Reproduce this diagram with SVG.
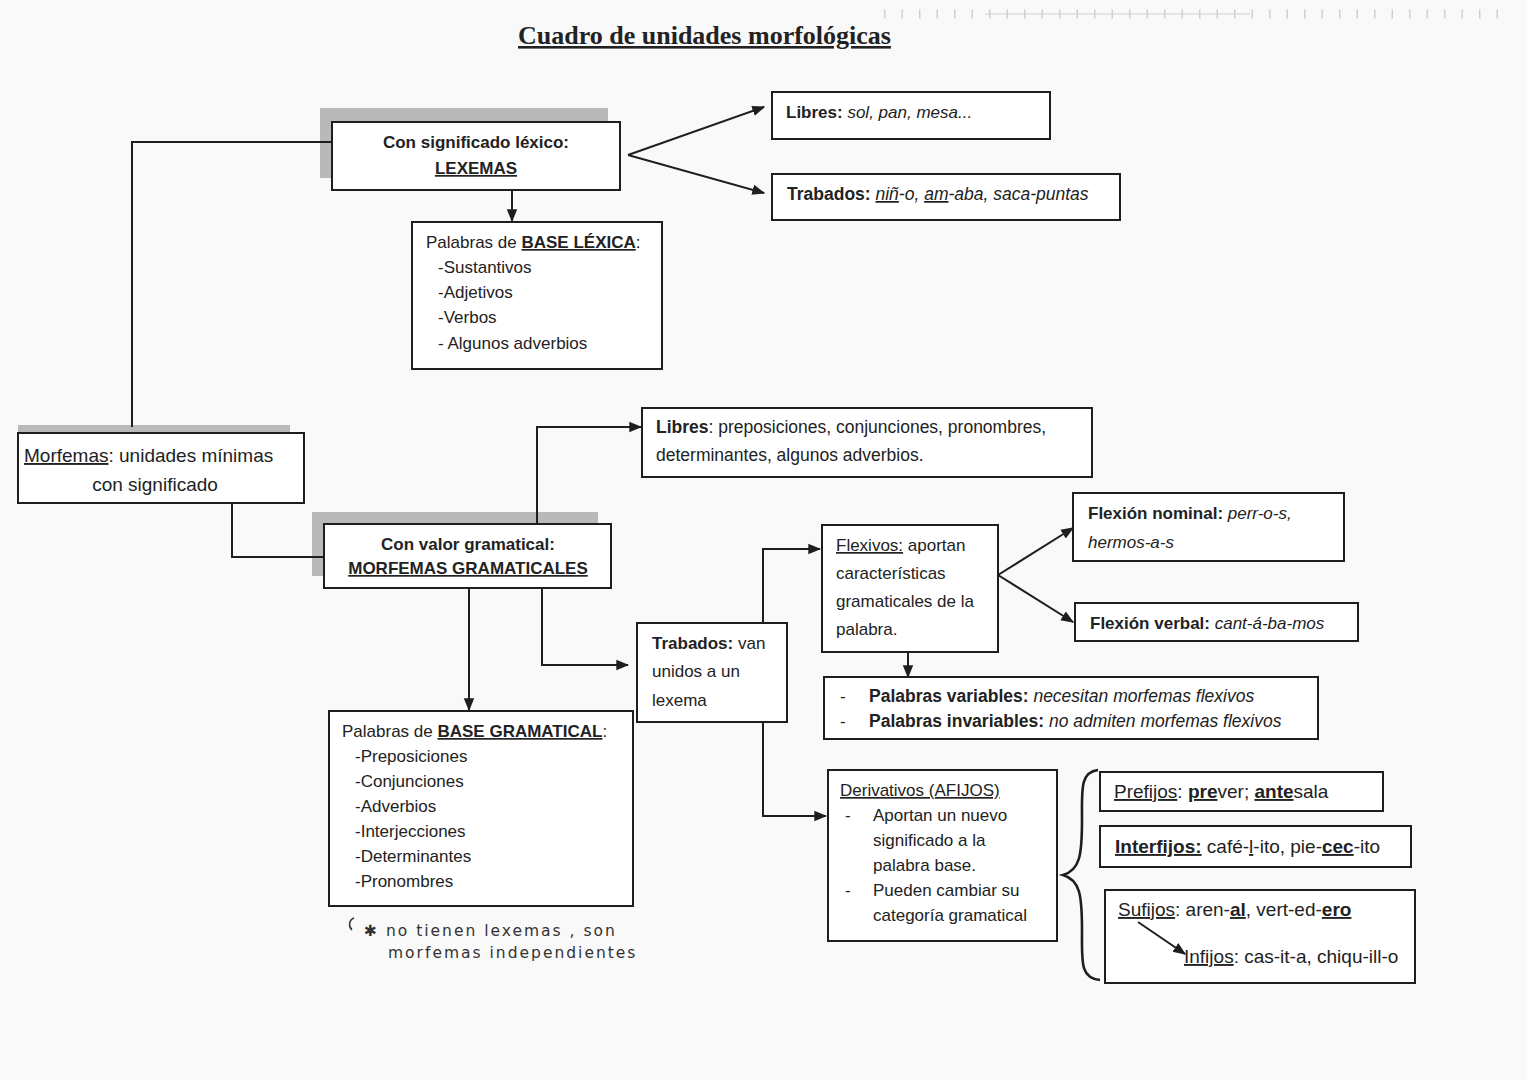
<svg xmlns="http://www.w3.org/2000/svg" width="1527" height="1080" viewBox="0 0 1527 1080">
<defs>
<style>
text{font-family:"Liberation Sans",Arial,sans-serif;font-size:17px;fill:#222}
.b{font-weight:bold}
.i{font-style:italic}
.u{text-decoration:underline}
.c{text-anchor:middle}
.big{font-size:19px}
.box{fill:#fff;stroke:#1e1e1e;stroke-width:2}
.sh{fill:#b9b9b9}
.ln{fill:none;stroke:#1e1e1e;stroke-width:2}
.arr{fill:none;stroke:#1e1e1e;stroke-width:2;marker-end:url(#ah)}
.title{font-family:"Liberation Serif","Times New Roman",serif;font-size:26px;font-weight:bold;text-decoration:underline}
.hand{font-family:"DejaVu Sans",sans-serif;font-size:15.5px;letter-spacing:2px;fill:#333}
</style>
<marker id="ah" viewBox="0 0 10 10" refX="9" refY="5" markerWidth="6.5" markerHeight="6.5" orient="auto" markerUnits="strokeWidth">
<path d="M0,1 L10,5 L0,9 z" fill="#1e1e1e"/>
</marker>
</defs>
<rect x="0" y="0" width="1527" height="1080" fill="#f9f9f9"/>
<line x1="884" y1="14" x2="1512" y2="14" stroke="#cfcfcf" stroke-width="9" stroke-dasharray="1.5 16"/>
<line x1="985" y1="14" x2="1250" y2="14" stroke="#cfcfcf" stroke-width="1.2"/>
<text id="title" class="title" x="518" y="44">Cuadro de unidades morfológicas</text>

<g id="lexemas">
<rect class="sh" x="320" y="108" width="288" height="70"/>
<rect class="box" x="332" y="122" width="288" height="68"/>
<text class="b c" x="476" y="148">Con significado léxico:</text>
<text class="b c u" x="476" y="174">LEXEMAS</text>
</g>

<g id="libres-lex">
<rect class="box" x="772" y="92" width="278" height="47"/>
<text x="786" y="118"><tspan class="b">Libres:</tspan><tspan class="i"> sol, pan, mesa...</tspan></text>
</g>

<g id="trabados-lex">
<rect class="box" x="772" y="174" width="348" height="46"/>
<text x="787" y="200" style="font-size:17.5px"><tspan class="b">Trabados: </tspan><tspan class="i u">niñ</tspan><tspan class="i">-o, </tspan><tspan class="i u">am</tspan><tspan class="i">-aba, saca-puntas</tspan></text>
</g>

<g id="base-lexica">
<rect class="box" x="412" y="222" width="250" height="147"/>
<text x="426" y="248">Palabras de <tspan class="b u">BASE LÉXICA</tspan>:</text>
<text x="438" y="273">-Sustantivos</text>
<text x="438" y="298">-Adjetivos</text>
<text x="438" y="323">-Verbos</text>
<text x="438" y="349">- Algunos adverbios</text>
</g>

<g id="morfemas">
<rect class="sh" x="18" y="425" width="272" height="10"/>
<rect class="box" x="18" y="433" width="286" height="70"/>
<text class="big" x="24" y="462"><tspan class="u">Morfemas</tspan>: unidades mínimas</text>
<text class="big c" x="155" y="491">con significado</text>
</g>

<g id="gramatical">
<rect class="sh" x="312" y="512" width="286" height="64"/>
<rect class="box" x="324" y="524" width="287" height="64"/>
<text class="b c" x="468" y="550">Con valor gramatical:</text>
<text class="b c u" x="468" y="574">MORFEMAS GRAMATICALES</text>
</g>

<g id="libres-gram">
<rect class="box" x="642" y="408" width="450" height="69"/>
<text x="656" y="433" style="font-size:17.5px"><tspan class="b">Libres</tspan>: preposiciones, conjunciones, pronombres,</text>
<text x="656" y="461" style="font-size:17.5px">determinantes, algunos adverbios.</text>
</g>

<g id="base-gramatical">
<rect class="box" x="329" y="711" width="304" height="195"/>
<text x="342" y="737">Palabras de <tspan class="b u">BASE GRAMATICAL</tspan>:</text>
<text x="355" y="762">-Preposiciones</text>
<text x="355" y="787">-Conjunciones</text>
<text x="355" y="812">-Adverbios</text>
<text x="355" y="837">-Interjecciones</text>
<text x="355" y="862">-Determinantes</text>
<text x="355" y="887">-Pronombres</text>
</g>

<g id="nota">
<path d="M352,930 C348,926 349,920 354,918" fill="none" stroke="#333" stroke-width="1.5"/>
<text class="hand" x="364" y="936">✱ no tienen lexemas , son</text>
<text class="hand" x="388" y="958">morfemas  independientes</text>
</g>

<g id="trabados-gram">
<rect class="box" x="637" y="623" width="150" height="99"/>
<text x="652" y="649"><tspan class="b">Trabados:</tspan> van</text>
<text x="652" y="677">unidos a un</text>
<text x="652" y="706">lexema</text>
</g>

<g id="flexivos">
<rect class="box" x="822" y="525" width="176" height="127"/>
<text x="836" y="551"><tspan class="u">Flexivos:</tspan> aportan</text>
<text x="836" y="579">características</text>
<text x="836" y="607">gramaticales de la</text>
<text x="836" y="635">palabra.</text>
</g>

<g id="flexion-nominal">
<rect class="box" x="1073" y="493" width="271" height="68"/>
<text x="1088" y="519"><tspan class="b">Flexión nominal:</tspan><tspan class="i"> perr-o-s,</tspan></text>
<text class="i" x="1088" y="548">hermos-a-s</text>
</g>

<g id="flexion-verbal">
<rect class="box" x="1075" y="603" width="283" height="38"/>
<text x="1090" y="629"><tspan class="b">Flexión verbal:</tspan><tspan class="i"> cant-á-ba-mos</tspan></text>
</g>

<g id="variables">
<rect class="box" x="824" y="677" width="494" height="62"/>
<text x="840" y="702">-</text>
<text x="869" y="702" style="font-size:17.5px"><tspan class="b">Palabras variables:</tspan><tspan class="i"> necesitan morfemas flexivos</tspan></text>
<text x="840" y="727">-</text>
<text x="869" y="727" style="font-size:17.5px"><tspan class="b">Palabras invariables:</tspan><tspan class="i"> no admiten morfemas flexivos</tspan></text>
</g>

<g id="derivativos">
<rect class="box" x="828" y="770" width="229" height="171"/>
<text class="u" x="840" y="796">Derivativos (AFIJOS)</text>
<text x="845" y="821">-</text>
<text x="873" y="821">Aportan un nuevo</text>
<text x="873" y="846">significado a la</text>
<text x="873" y="871">palabra base.</text>
<text x="845" y="896">-</text>
<text x="873" y="896">Pueden cambiar su</text>
<text x="873" y="921">categoría gramatical</text>
</g>

<g id="prefijos">
<rect class="box" x="1100" y="772" width="283" height="39"/>
<text class="big" x="1114" y="798"><tspan class="u">Prefijos</tspan>:  <tspan class="u b">pre</tspan>ver; <tspan class="u b">ante</tspan>sala</text>
</g>

<g id="interfijos">
<rect class="box" x="1100" y="826" width="311" height="41"/>
<text class="big" x="1115" y="853"><tspan class="b u">Interfijos:</tspan>  café-<tspan class="u">l</tspan>-ito, pie-<tspan class="u b">cec</tspan>-ito</text>
</g>

<g id="sufijos">
<rect class="box" x="1105" y="890" width="310" height="93"/>
<text class="big" x="1118" y="916"><tspan class="u">Sufijos</tspan>:  aren-<tspan class="u b">al</tspan>, vert-ed-<tspan class="u b">ero</tspan></text>
<text class="big" x="1184" y="963"><tspan class="u">Infijos</tspan>:  cas-it-a, chiqu-ill-o</text>
</g>

<g id="connectors">
<line class="arr" x1="628" y1="155" x2="764" y2="107"/>
<line class="arr" x1="628" y1="155" x2="764" y2="193"/>
<line class="arr" x1="512" y1="190" x2="512" y2="221"/>
<polyline class="ln" points="332,142 132,142 132,427"/>
<polyline class="ln" points="232,503 232,557 324,557"/>
<polyline class="arr" points="537,524 537,427 641,427"/>
<line class="arr" x1="469" y1="588" x2="469" y2="710"/>
<polyline class="arr" points="542,588 542,665 628,665"/>
<polyline class="arr" points="763,623 763,549 820,549"/>
<polyline class="arr" points="763,722 763,816 826,816"/>
<line class="arr" x1="998" y1="575" x2="1073" y2="528"/>
<line class="arr" x1="998" y1="575" x2="1073" y2="622"/>
<line class="arr" x1="908" y1="652" x2="908" y2="677"/>
<line class="arr" x1="1138" y1="922" x2="1185" y2="954"/>
<path d="M1098,770 C1080,772 1082,790 1082,820 C1082,855 1080,870 1063,875 C1080,880 1082,895 1082,930 C1082,962 1080,978 1100,980" fill="none" stroke="#1e1e1e" stroke-width="2.6"/>
</g>
</svg>
